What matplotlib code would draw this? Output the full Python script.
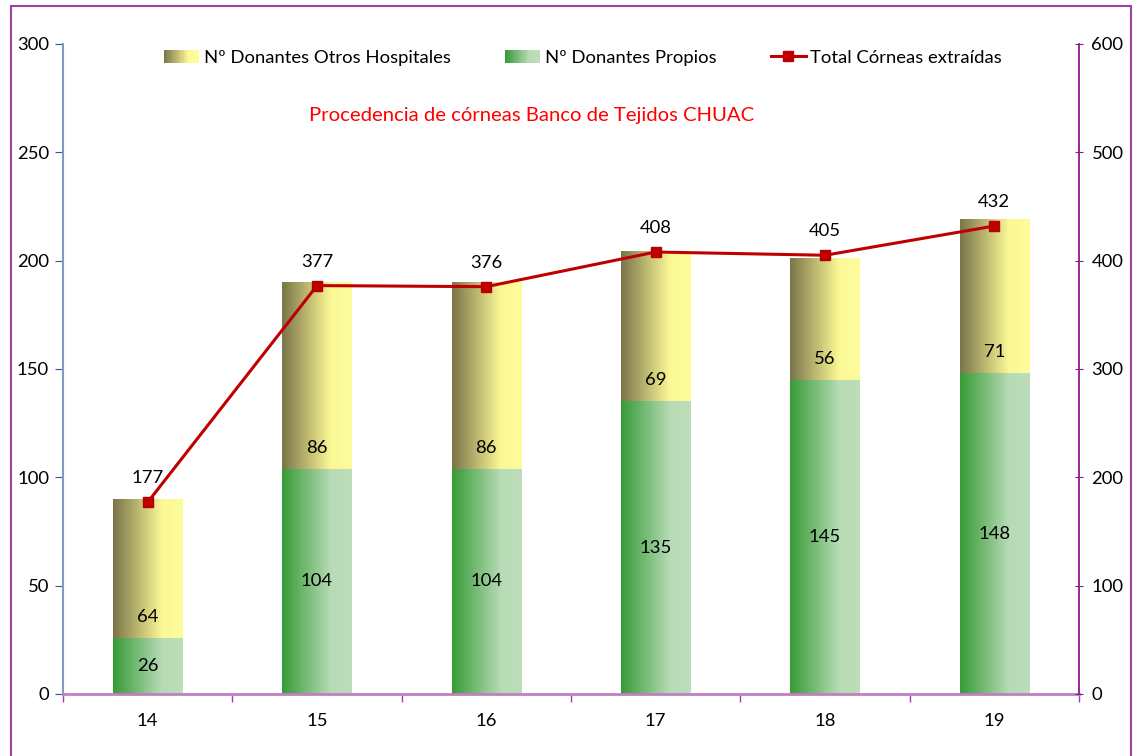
import numpy as np
import matplotlib
matplotlib.use("Agg")
import matplotlib.pyplot as plt
from matplotlib.colors import LinearSegmentedColormap
from matplotlib.patches import Rectangle
from matplotlib.legend_handler import HandlerBase
from matplotlib.lines import Line2D

plt.rcParams['font.family'] = ['Lato', 'DejaVu Sans']

# ---- data ----
years = ['14', '15', '16', '17', '18', '19']
propios = [26, 104, 104, 135, 145, 148]
otros = [64, 86, 86, 69, 56, 71]
total_corneas = [177, 377, 376, 408, 405, 432]

green_cmap = LinearSegmentedColormap.from_list('g', [(0, '#369b36'), (0.7, '#b7dbb5'), (1, '#bcdeba')])
yellow_cmap = LinearSegmentedColormap.from_list('y', [(0, '#7a744a'), (0.7, '#fbf895'), (1, '#fdfc9c')])

fig = plt.figure(figsize=(11.34, 7.56), dpi=100)
ax = fig.add_axes([63/1134, 1-694/756, (1079-63)/1134, (694-44)/756])
ax2 = ax.twinx()

x = np.arange(len(years))
w = 0.41
b1 = ax.bar(x, propios, w, color='none', edgecolor='none', label='Nº Donantes Propios')
b2 = ax.bar(x, otros, w, bottom=propios, color='none', edgecolor='none', label='Nº Donantes Otros Hospitales')

grad = np.linspace(0, 1, 256).reshape(1, -1)
for bars, cmap in ((b1, green_cmap), (b2, yellow_cmap)):
    for p in bars:
        x0, y0 = p.get_x(), p.get_y()
        ax.imshow(grad, cmap=cmap, aspect='auto', extent=(x0, x0 + p.get_width(), y0, y0 + p.get_height()),
                  zorder=2, interpolation='bicubic')

ax.set_xlim(-0.5, len(years) - 0.5)
ax.set_ylim(0, 300)
ax2.set_ylim(0, 600)

fs = 13.3
# labels
for i in range(len(years)):
    ax.text(x[i], propios[i] / 2, str(propios[i]), ha='center', va='center', fontsize=fs, zorder=5)
    ax.annotate(str(otros[i]), (x[i], propios[i]), xytext=(0, 21), textcoords='offset pixels',
                ha='center', va='center', fontsize=fs, zorder=5)

ax2.plot(x, total_corneas, color='#c00000', lw=2.2, marker='s', markersize=7.5,
         markerfacecolor='#c00000', markeredgecolor='#b00000', zorder=6, label='Total Córneas extraídas')
for i in range(len(years)):
    ax2.annotate(str(total_corneas[i]), (x[i], total_corneas[i]), xytext=(0, 24), textcoords='offset pixels',
                 ha='center', va='center', fontsize=fs)

# axes styling
ax.set_yticks(np.arange(0, 301, 50))
ax2.set_yticks(np.arange(0, 601, 100))
ax.set_xticks(np.arange(-0.5, len(years), 1.0))
ax.set_xticklabels([])
ax.set_xticks(x, minor=True)
ax.set_xticklabels(years, minor=True)
ax.tick_params(axis='x', which='minor', length=0, pad=14, labelsize=fs)
ax.tick_params(axis='x', which='major', length=6, color='#a040a0', width=1)
ax.tick_params(axis='y', length=6, color='#2f5597', labelsize=fs, pad=4, direction='out')
ax2.tick_params(axis='y', length=6, color='#8b1a8b', labelsize=fs, direction='inout', pad=6)

for a in (ax, ax2):
    a.spines['top'].set_visible(False)
ax2.spines['left'].set_visible(False)
ax2.spines['bottom'].set_visible(False)
ax.spines['right'].set_visible(False)
ax.spines['left'].set_color('#7f9bc2')
ax.spines['left'].set_linewidth(1.5)
ax.spines['bottom'].set_color('#c27ec2')
ax.spines['bottom'].set_linewidth(2)
ax2.spines['right'].set_color('#8b1a8b')
ax2.spines['right'].set_linewidth(1.3)
ax.set_facecolor('none')
ax2.set_facecolor('none')

# title
fig.text(532/1134, 1-115/756, 'Procedencia de córneas Banco de Tejidos CHUAC', color='#ff0000',
         fontsize=14.6, ha='center', va='center')

# gradient legend handler
class GradHandler(HandlerBase):
    def __init__(self, cmap):
        super().__init__()
        self.cmap = cmap
    def create_artists(self, legend, orig_handle, xdescent, ydescent, width, height, fontsize, trans):
        n = 30
        arts = []
        for k in range(n):
            r = Rectangle((-xdescent + width * k / n, -ydescent), width / n * 1.05, height,
                          facecolor=self.cmap(k / (n - 1)), edgecolor='none', transform=trans)
            arts.append(r)
        return arts

hy = Rectangle((0, 0), 1, 1)
hg = Rectangle((0, 0), 1, 1)
hl = Line2D([], [], color='#c00000', lw=2.2, marker='s', markersize=7.5, markerfacecolor='#c00000')
leg = fig.legend([hy, hg, hl], ['Nº Donantes Otros Hospitales', 'Nº Donantes Propios', 'Total Córneas extraídas'],
                 handler_map={hy: GradHandler(yellow_cmap), hg: GradHandler(green_cmap)},
                 loc='center', bbox_to_anchor=(583/1134, 1-58/756), ncol=3, frameon=False,
                 fontsize=fs, columnspacing=2.95, handlelength=1.9, handletextpad=0.25, handleheight=0.75)

# figure border
fig.patches.append(Rectangle((11/1134, -0.01), (1131-11)/1134, 1 - 6/756 + 0.01, transform=fig.transFigure,
                             fill=False, edgecolor='#a040a0', lw=1.5))

fig.savefig('out.png', dpi=100)
